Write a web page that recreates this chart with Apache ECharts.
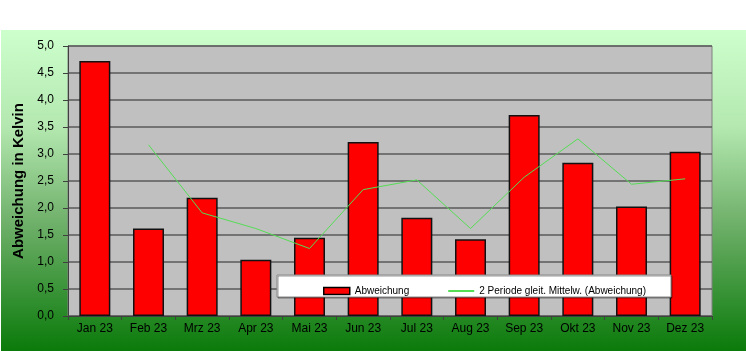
<!DOCTYPE html>
<html>
<head>
<meta charset="utf-8">
<script src="https://cdn.jsdelivr.net/npm/echarts@6/dist/echarts.min.js"></script>
<style>
  html, body { margin: 0; padding: 0; background: #fff; }
  #chart { width: 746px; height: 351px; }
</style>
</head>
<body>
<div id="chart"></div>
<script>
var months = ['Jan 23', 'Feb 23', 'Mrz 23', 'Apr 23', 'Mai 23', 'Jun 23', 'Jul 23', 'Aug 23', 'Sep 23', 'Okt 23', 'Nov 23', 'Dez 23'];
// Abweichung (Balken)
var abweichung = [4.72, 1.62, 2.19, 1.04, 1.45, 3.22, 1.82, 1.42, 3.72, 2.84, 2.03, 3.04];
// gleitender Mittelwert
var mittel = [null, 3.17, 1.91, 1.62, 1.25, 2.34, 2.52, 1.62, 2.57, 3.28, 2.44, 2.54];

var chart = echarts.init(document.getElementById('chart'));
var font = 'Liberation Sans, Arial, sans-serif';

chart.setOption({
    backgroundColor: '#fff',
    animation: false,
    textStyle: { fontFamily: font },
    graphic: [{
        type: 'rect',
        z: -10,
        silent: true,
        shape: { x: 1, y: 30, width: 745, height: 321 },
        style: {
            fill: new echarts.graphic.LinearGradient(0, 0, 0, 1, [
                { offset: 0, color: '#ccffcc' },
                { offset: 0.3, color: '#b4e8b0' },
                { offset: 0.6, color: '#6fb06a' },
                { offset: 1, color: '#0a7a0a' }
            ])
        }
    }, {
        // Legendenrahmen
        type: 'rect',
        z: 50,
        silent: true,
        shape: { x: 277, y: 275, width: 394, height: 22 },
        style: { fill: '#fff', stroke: '#888', lineWidth: 1, shadowColor: 'rgba(0,0,0,0.4)', shadowOffsetX: 1, shadowOffsetY: 1 }
    }],
    grid: {
        left: 68, right: 34, top: 46, bottom: 35,
        outerBoundsMode: 'none',
        containLabel: false,
        show: true,
        backgroundColor: '#c0c0c0',
        borderColor: '#808080',
        borderWidth: 1
    },
    legend: {
        left: 318, top: 281,
        z: 60,
        itemGap: 38,
        itemWidth: 26, itemHeight: 7,
        textStyle: { fontSize: 10, color: '#000', fontFamily: font },
        data: [
            { name: 'Abweichung', icon: 'rect', itemStyle: { color: '#ff0000', borderColor: '#000', borderWidth: 1.5 } },
            { name: '2 Periode gleit. Mittelw. (Abweichung)', itemStyle: { opacity: 0 } }
        ]
    },
    xAxis: {
        type: 'category',
        data: months,
        boundaryGap: true,
        axisLine: { lineStyle: { color: '#404040', width: 1 } },
        axisTick: { show: true, length: 4, lineStyle: { color: '#404040' } },
        axisLabel: { fontSize: 12, color: '#000', margin: 7, fontFamily: font }
    },
    yAxis: {
        type: 'value',
        min: 0, max: 5, interval: 0.5,
        name: 'Abweichung in Kelvin',
        nameLocation: 'middle',
        nameGap: 10,
        nameTextStyle: { fontSize: 15, fontWeight: 'bold', color: '#000', fontFamily: font },
        axisLine: { show: true, lineStyle: { color: '#404040', width: 1 } },
        axisTick: { show: true, length: 5, lineStyle: { color: '#404040' } },
        axisLabel: {
            fontSize: 12, color: '#000', margin: 14, fontFamily: font,
            formatter: function (v) { return v.toFixed(1).replace('.', ','); }
        },
        splitLine: { show: true, lineStyle: { color: '#5a5a5a', width: 1.5 } }
    },
    series: [{
        name: 'Abweichung',
        type: 'bar',
        barWidth: 31,
        data: abweichung,
        itemStyle: { color: '#ff0000', borderColor: '#111', borderWidth: 1.5 }
    }, {
        name: '2 Periode gleit. Mittelw. (Abweichung)',
        type: 'line',
        data: mittel,
        symbol: 'none',
        lineStyle: { color: '#55dd55', width: 1 },
        itemStyle: { color: '#55dd55' }
    }]
});
</script>
</body>
</html>
